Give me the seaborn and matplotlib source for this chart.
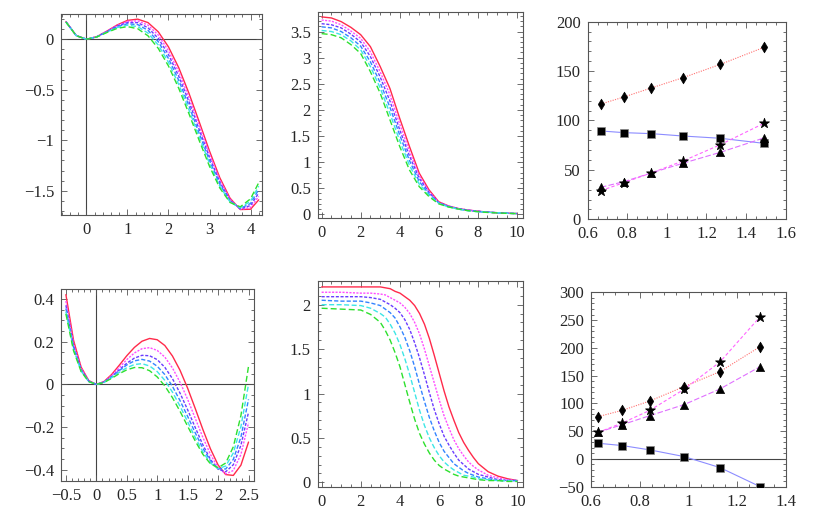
import seaborn as sns
import matplotlib
matplotlib.use("Agg")
import matplotlib.pyplot as plt
from matplotlib.ticker import MultipleLocator, FuncFormatter

# top-left: potentials
p1_x = [-0.5, -0.25, 0, 0.25, 0.5, 0.75, 1, 1.25, 1.5, 1.75, 2, 2.25, 2.5, 2.75, 3, 3.25, 3.5, 3.75, 4, 4.2]
p1_y = [
    [0.175, 0.037, 0, 0.025, 0.081, 0.142, 0.187, 0.199, 0.165, 0.074, -0.076, -0.282, -0.536, -0.819, -1.107, -1.37, -1.573, -1.686, -1.683, -1.59],
    [0.174, 0.036, 0, 0.025, 0.079, 0.136, 0.177, 0.182, 0.14, 0.042, -0.114, -0.324, -0.578, -0.857, -1.139, -1.392, -1.584, -1.684, -1.666, -1.556],
    [0.173, 0.036, 0, 0.024, 0.076, 0.131, 0.165, 0.164, 0.114, 0.009, -0.152, -0.366, -0.62, -0.896, -1.171, -1.414, -1.594, -1.68, -1.646, -1.522],
    [0.172, 0.036, 0, 0.024, 0.074, 0.124, 0.153, 0.145, 0.088, -0.024, -0.191, -0.407, -0.661, -0.934, -1.202, -1.435, -1.603, -1.675, -1.626, -1.488],
    [0.171, 0.035, 0, 0.023, 0.07, 0.116, 0.139, 0.125, 0.061, -0.057, -0.229, -0.448, -0.701, -0.971, -1.231, -1.455, -1.61, -1.668, -1.603, -1.454],
    [0.17, 0.035, 0, 0.022, 0.067, 0.108, 0.125, 0.104, 0.034, -0.09, -0.265, -0.486, -0.738, -1.004, -1.258, -1.472, -1.616, -1.659, -1.58, -1.42],
]

# top-middle: profiles
p2_x = [0, 0.5, 1, 1.5, 2, 2.5, 3, 3.5, 4, 4.5, 5, 5.5, 6, 6.5, 7, 7.5, 8, 8.5, 9, 9.5, 10]
p2_y = [
    [3.78, 3.76, 3.69, 3.58, 3.44, 3.21, 2.83, 2.41, 1.84, 1.30, 0.79, 0.47, 0.24, 0.16, 0.11, 0.08, 0.06, 0.04, 0.03, 0.02, 0.015],
    [3.72, 3.70, 3.63, 3.51, 3.37, 3.11, 2.73, 2.29, 1.73, 1.21, 0.74, 0.44, 0.23, 0.16, 0.11, 0.08, 0.06, 0.04, 0.03, 0.02, 0.014],
    [3.65, 3.63, 3.57, 3.45, 3.30, 3.02, 2.63, 2.17, 1.62, 1.12, 0.69, 0.42, 0.22, 0.15, 0.11, 0.08, 0.06, 0.04, 0.03, 0.02, 0.014],
    [3.59, 3.57, 3.50, 3.38, 3.22, 2.92, 2.52, 2.05, 1.52, 1.03, 0.63, 0.39, 0.22, 0.15, 0.10, 0.07, 0.05, 0.04, 0.03, 0.02, 0.013],
    [3.52, 3.50, 3.44, 3.32, 3.15, 2.83, 2.42, 1.93, 1.41, 0.94, 0.58, 0.37, 0.21, 0.14, 0.10, 0.07, 0.05, 0.04, 0.03, 0.02, 0.013],
    [3.46, 3.44, 3.38, 3.25, 3.08, 2.73, 2.32, 1.81, 1.30, 0.85, 0.53, 0.34, 0.20, 0.14, 0.10, 0.07, 0.05, 0.035, 0.025, 0.018, 0.012],
]

# bottom-left: potentials
p4_x = [-0.5, -0.375, -0.25, -0.125, 0, 0.125, 0.25, 0.375, 0.5, 0.625, 0.75, 0.875, 1, 1.125, 1.25, 1.375, 1.5, 1.625, 1.75, 1.875, 2, 2.125, 2.25, 2.375, 2.5]
p4_y = [
    [0.42, 0.207, 0.081, 0.018, 0, 0.013, 0.046, 0.089, 0.134, 0.173, 0.202, 0.215, 0.209, 0.182, 0.133, 0.066, -0.018, -0.113, -0.211, -0.302, -0.377, -0.422, -0.426, -0.378, -0.27],
    [0.39, 0.192, 0.075, 0.016, 0, 0.012, 0.041, 0.078, 0.116, 0.147, 0.167, 0.172, 0.159, 0.128, 0.077, 0.01, -0.07, -0.159, -0.248, -0.328, -0.389, -0.419, -0.403, -0.328, -0.18],
    [0.37, 0.18, 0.069, 0.015, 0, 0.011, 0.036, 0.068, 0.099, 0.123, 0.136, 0.134, 0.116, 0.08, 0.027, -0.041, -0.119, -0.202, -0.283, -0.351, -0.397, -0.409, -0.376, -0.285, -0.13],
    [0.355, 0.174, 0.067, 0.014, 0, 0.01, 0.035, 0.064, 0.091, 0.11, 0.117, 0.109, 0.085, 0.046, -0.009, -0.076, -0.15, -0.227, -0.299, -0.358, -0.394, -0.396, -0.351, -0.247, -0.07],
    [0.34, 0.164, 0.062, 0.013, 0, 0.009, 0.031, 0.056, 0.078, 0.093, 0.097, 0.086, 0.06, 0.019, -0.036, -0.102, -0.175, -0.249, -0.316, -0.368, -0.394, -0.382, -0.321, -0.198, 0.0],
    [0.33, 0.158, 0.06, 0.013, 0, 0.009, 0.028, 0.05, 0.068, 0.079, 0.078, 0.064, 0.035, -0.007, -0.062, -0.126, -0.196, -0.265, -0.327, -0.372, -0.39, -0.368, -0.292, -0.146, 0.085],
]

# bottom-middle: profiles
p5_x = [0, 1, 2, 2.5, 3, 3.25, 3.5, 3.75, 4, 4.25, 4.5, 4.75, 5, 5.25, 5.5, 5.75, 6, 6.25, 6.5, 6.75, 7, 7.25, 7.5, 7.75, 8, 8.5, 9, 9.5, 10]
p5_y = [
    [2.2, 2.2, 2.2, 2.2, 2.2, 2.19, 2.18, 2.15, 2.13, 2.09, 2.05, 1.99, 1.9, 1.78, 1.62, 1.43, 1.23, 1.03, 0.85, 0.7, 0.56, 0.45, 0.36, 0.28, 0.21, 0.12, 0.07, 0.04, 0.02],
    [2.14, 2.14, 2.13, 2.13, 2.12, 2.11, 2.08, 2.05, 2.02, 1.97, 1.9, 1.8, 1.67, 1.5, 1.31, 1.12, 0.93, 0.75, 0.61, 0.48, 0.38, 0.3, 0.23, 0.18, 0.14, 0.08, 0.05, 0.03, 0.02],
    [2.09, 2.09, 2.09, 2.08, 2.06, 2.03, 2.0, 1.96, 1.91, 1.83, 1.72, 1.57, 1.4, 1.21, 1.01, 0.82, 0.66, 0.52, 0.42, 0.33, 0.25, 0.2, 0.15, 0.12, 0.09, 0.06, 0.03, 0.02, 0.02],
    [2.05, 2.04, 2.04, 2.02, 1.99, 1.95, 1.91, 1.85, 1.75, 1.63, 1.48, 1.3, 1.1, 0.91, 0.73, 0.58, 0.45, 0.35, 0.28, 0.21, 0.17, 0.13, 0.1, 0.08, 0.06, 0.04, 0.02, 0.02, 0.02],
    [2.0, 2.0, 1.99, 1.96, 1.9, 1.86, 1.78, 1.68, 1.55, 1.39, 1.21, 1.01, 0.81, 0.64, 0.5, 0.39, 0.3, 0.23, 0.18, 0.14, 0.11, 0.08, 0.07, 0.06, 0.04, 0.03, 0.02, 0.02, 0.01],
    [1.96, 1.95, 1.94, 1.89, 1.8, 1.71, 1.6, 1.46, 1.3, 1.1, 0.9, 0.71, 0.55, 0.43, 0.33, 0.25, 0.19, 0.15, 0.12, 0.09, 0.07, 0.06, 0.05, 0.04, 0.03, 0.02, 0.02, 0.01, 0.01],
]

# top-right markers
p3_x = [0.667, 0.783, 0.921, 1.081, 1.270, 1.490]
p3_diamond = [116.7, 123.8, 132.9, 143.3, 156.8, 174.0]
p3_square = [89.4, 87.7, 86.7, 84.3, 82.0, 76.9]
p3_triangle = [32.4, 38.1, 46.9, 56.7, 67.8, 82.3]
p3_star = [29.0, 37.1, 46.9, 59.0, 75.5, 97.1]
# bottom-right markers
p6_x = [0.630, 0.729, 0.842, 0.982, 1.129, 1.294]
p6_diamond = [76.2, 87.6, 104.4, 130.2, 157.2, 202.2]
p6_square = [28.2, 24.0, 16.2, 4.2, -15.6, -50.0]
p6_triangle = [48.0, 61.8, 78.0, 97.8, 126.0, 166.2]
p6_star = [48.0, 64.8, 87.6, 125.4, 174.6, 256.2]

sns.set_style("ticks")
plt.rcParams["font.family"] = ["Liberation Serif", "DejaVu Serif"]
plt.rcParams["axes.unicode_minus"] = True

cols = ["#ff2a4a", "#ff4cff", "#6a3cff", "#3384ff", "#3ee6e6", "#2ee02e"]
dashes = ["-", (0, (1.5, 1.0)), (0, (2.2, 1.2)), (0, (3.0, 1.5)), (0, (3.6, 1.8)), (0, (4.3, 2.2))]

fig = plt.figure(figsize=(8.17, 5.24), dpi=100)
boxes = [(0.0747, 0.5897, 0.246, 0.3836), (0.3889, 0.5834, 0.2517, 0.3943), (0.7193, 0.5815, 0.2423, 0.3771),
         (0.0747, 0.0821, 0.2362, 0.3658), (0.3889, 0.0712, 0.2517, 0.3931), (0.7234, 0.0712, 0.2387, 0.371)]
axs = [fig.add_axes(b) for b in boxes]
fmt = FuncFormatter(lambda v, p: f"{round(v, 6):g}".replace("-", "\u2212"))


def style(ax, xlim, ylim, xmaj, xmin, ymaj, ymin):
    ax.set_xlim(*xlim)
    ax.set_ylim(*ylim)
    ax.xaxis.set_major_locator(MultipleLocator(xmaj))
    ax.xaxis.set_minor_locator(MultipleLocator(xmin))
    ax.yaxis.set_major_locator(MultipleLocator(ymaj))
    ax.yaxis.set_minor_locator(MultipleLocator(ymin))
    ax.xaxis.set_major_formatter(fmt)
    ax.yaxis.set_major_formatter(fmt)
    ax.tick_params(which="both", direction="in", top=True, right=True, labelsize=12, color="#555555", width=0.6)
    ax.tick_params(which="major", length=4)
    ax.tick_params(which="minor", length=2)
    ax.tick_params(axis="x", pad=5)
    ax.tick_params(axis="y", pad=5)
    for s in ax.spines.values():
        s.set_color("#555555")
        s.set_linewidth(0.8)
    ax.set_xlabel("")
    ax.set_ylabel("")


# curve families
for ax, xs, ys in [(axs[0], p1_x, p1_y), (axs[1], p2_x, p2_y), (axs[3], p4_x, p4_y), (axs[4], p5_x, p5_y)]:
    for k in range(6):
        sns.lineplot(x=xs, y=ys[k], ax=ax, color=cols[k], linestyle=dashes[k], lw=1.0)
for ax in (axs[0], axs[3]):
    ax.axhline(0, color="#444444", lw=0.8, zorder=0)
    ax.axvline(0, color="#444444", lw=0.8, zorder=0)
axs[5].axhline(0, color="#444444", lw=0.8, zorder=0)

# marker panels
for ax, xx, d, s, tr, st in [(axs[2], p3_x, p3_diamond, p3_square, p3_triangle, p3_star),
                             (axs[5], p6_x, p6_diamond, p6_square, p6_triangle, p6_star)]:
    sns.lineplot(x=xx, y=d, ax=ax, color="#ff7070", linestyle=(0, (1, 1.2)), lw=0.8)
    sns.lineplot(x=xx, y=s, ax=ax, color="#8c8cff", linestyle="-", lw=0.8)
    sns.lineplot(x=xx, y=tr, ax=ax, color="#e070ff", linestyle=(0, (5, 2)), lw=0.8)
    sns.lineplot(x=xx, y=st, ax=ax, color="#ff66ff", linestyle=(0, (3, 2)), lw=0.8)
    sns.scatterplot(x=xx, y=d, ax=ax, marker="d", s=30, color="black", edgecolor="black", zorder=5)
    sns.scatterplot(x=xx, y=s, ax=ax, marker="s", s=38, color="black", edgecolor="#888888", linewidth=0.5, zorder=5)
    sns.scatterplot(x=xx, y=tr, ax=ax, marker="^", s=35, color="black", edgecolor="black", zorder=5)
    sns.scatterplot(x=xx, y=st, ax=ax, marker="*", s=55, color="black", edgecolor="black", zorder=5)

style(axs[0], (-0.62, 4.28), (-1.74, 0.25), 1, 0.2, 0.5, 0.1)
style(axs[1], (-0.2, 10.34), (-0.077, 3.88), 2, 0.5, 0.5, 0.1)
style(axs[2], (0.6, 1.6), (0, 200), 0.2, 0.05, 50, 10)
style(axs[3], (-0.58, 2.59), (-0.452, 0.445), 0.5, 0.1, 0.2, 0.05)
style(axs[4], (-0.2, 10.3), (-0.049, 2.27), 2, 0.5, 0.5, 0.1)
style(axs[5], (0.6, 1.4), (-50, 300), 0.2, 0.05, 50, 10)

fig.savefig("out.png", dpi=100)
